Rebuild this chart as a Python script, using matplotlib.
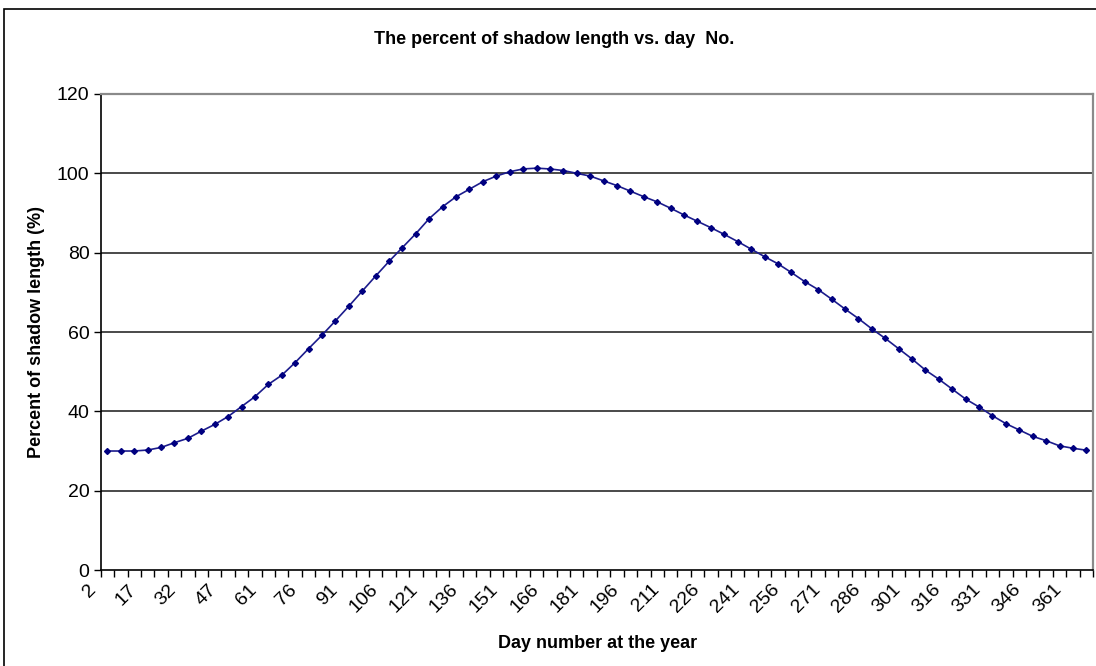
import matplotlib
matplotlib.use("Agg")
import matplotlib.pyplot as plt
import matplotlib.transforms as mtransforms
from matplotlib.patches import Rectangle

plt.rcParams['font.family'] = ['Liberation Sans', 'DejaVu Sans']

# day numbers (every ~5 days) and the shadow length in percent
days = [2, 7, 12, 17, 22, 27, 32, 37, 42, 47, 51, 56,
        61, 66, 71, 76, 81, 86, 91, 96, 101, 106, 111, 116,
        121, 126, 131, 136, 141, 146, 151, 156, 161, 166, 171, 176,
        181, 186, 191, 196, 201, 206, 211, 216, 221, 226, 231, 236,
        241, 246, 251, 256, 261, 266, 271, 276, 281, 286, 291, 296,
        301, 306, 311, 316, 321, 326, 331, 336, 341, 346, 351, 356,
        361, 365]
shadow_pct = [30.0, 30.0, 30.0, 30.25, 30.9, 32.1, 33.2, 35.0, 36.7, 38.7, 41.2, 43.7,
              46.8, 49.1, 52.3, 55.8, 59.2, 62.8, 66.5, 70.3, 74.1, 77.8, 81.3, 84.8,
              88.6, 91.6, 94.1, 96.0, 97.9, 99.3, 100.4, 101.1, 101.3, 101.1, 100.7, 100.0,
              99.3, 98.1, 96.9, 95.5, 94.1, 92.8, 91.2, 89.5, 87.9, 86.3, 84.6, 82.8,
              80.9, 79.0, 77.2, 75.0, 72.7, 70.7, 68.3, 65.8, 63.4, 60.8, 58.4, 55.8,
              53.2, 50.4, 48.1, 45.6, 43.1, 41.1, 38.9, 36.9, 35.3, 33.7, 32.6, 31.3,
              30.7, 30.2]
y_ticks = [0, 20, 40, 60, 80, 100, 120]

fig = plt.figure(figsize=(10.96, 6.66), dpi=100)
ax = fig.add_axes([0.0919, 0.1441, 0.9054, 0.7148])

pos = list(range(len(days)))
ax.plot(pos, shadow_pct, color='#1c1c8c', lw=1.2, marker='D', ms=3,
        mfc='#000080', mec='#000080', zorder=3)

ax.set_xlim(-0.5, len(days) - 0.5)
ax.set_ylim(0, 120)

# y axis with horizontal grid lines
ax.set_yticks(y_ticks)
ax.tick_params(axis='y', direction='out', length=5, width=1, labelsize=14, pad=3)
for v in y_ticks[1:-1]:
    ax.axhline(v, color='#3a3a3a', lw=1.3, zorder=1)

# category boundaries as ticks, labels on every third category
ax.set_xticks([p - 0.5 for p in pos] + [len(days) - 0.5])
ax.set_xticklabels([])
ax.tick_params(axis='x', which='major', direction='out', length=5, width=1)
ax.set_xticks(pos[::3], minor=True)
ax.set_xticklabels([str(d) for d in days[::3]], minor=True, rotation=45,
                   ha='right', va='top')
ax.tick_params(axis='x', which='minor', length=0, labelsize=14, pad=8)
shift = mtransforms.ScaledTranslation(-8 / 100, 0, fig.dpi_scale_trans)
for lbl in ax.get_xticklabels(minor=True):
    lbl.set_transform(lbl.get_transform() + shift)

for side in ['left', 'bottom']:
    ax.spines[side].set_color('black')
    ax.spines[side].set_linewidth(1.2)
for side in ['top', 'right']:
    ax.spines[side].set_color('#8a8a8a')
    ax.spines[side].set_linewidth(1.6)

fig.text(0.506, 0.940, 'The percent of shadow length vs. day  No.',
         ha='center', va='center', fontsize=13, fontweight='bold')
fig.text(0.545, 0.034, 'Day number at the year',
         ha='center', va='center', fontsize=13, fontweight='bold')
fig.text(0.033, 0.501, 'Percent of shadow length (%)', rotation=90,
         ha='center', va='center', fontsize=13, fontweight='bold')

# chart frame
fig.add_artist(Rectangle((4 / 1096, -0.1), 1.2, 0.1 + 657 / 666,
                         transform=fig.transFigure, fill=False,
                         edgecolor='black', lw=1.2))

fig.savefig('out.png', dpi=100)
